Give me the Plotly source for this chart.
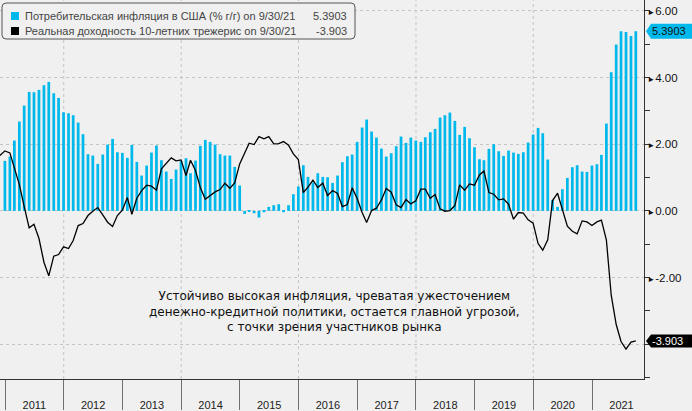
import pandas as pd
import plotly.graph_objects as go

# ---------------- data ----------------
cpi_start = "2010-12"
cpi_yoy = [
    1.50,
    1.63, 2.11, 2.68, 3.16, 3.57, 3.56, 3.63, 3.77, 3.87, 3.53, 3.39, 2.96,
    2.93, 2.87, 2.65, 2.30, 1.70, 1.66, 1.41, 1.69, 1.99, 2.16, 1.76, 1.74,
    1.59, 1.98, 1.47, 1.06, 1.36, 1.75, 1.96, 1.52, 1.18, 0.96, 1.24, 1.50,
    1.58, 1.13, 1.51, 1.95, 2.13, 2.07, 1.99, 1.70, 1.66, 1.66, 1.32, 0.76,
    -0.09, -0.03, -0.07, -0.20, -0.04, 0.12, 0.17, 0.20, -0.04, 0.17, 0.50, 0.73,
    1.37, 1.02, 0.85, 1.13, 1.02, 1.01, 0.84, 1.06, 1.46, 1.64, 1.69, 2.07,
    2.50, 2.74, 2.38, 2.20, 1.87, 1.63, 1.73, 1.94, 2.23, 2.04, 2.20, 2.11,
    2.07, 2.21, 2.36, 2.46, 2.80, 2.87, 2.95, 2.70, 2.28, 2.52, 2.18, 1.91,
    1.55, 1.52, 1.86, 2.00, 1.79, 1.65, 1.81, 1.75, 1.71, 1.76, 2.05, 2.29,
    2.49, 2.33, 1.54, 0.33, 0.12, 0.65, 0.99, 1.31, 1.37, 1.18, 1.17, 1.36,
    1.40, 1.68, 2.62, 4.16, 4.99, 5.39, 5.37, 5.25, 5.3903,
]

ry_start = "2010-11"
real_yield = [
    1.66, 1.80,
    1.74, 1.32, 0.79, 0.13, -0.51, -0.40, -0.83, -1.54, -1.95, -1.36, -1.31, -1.08,
    -1.13, -0.89, -0.44, -0.38, -0.14, -0.01, 0.10, -0.12, -0.34, -0.47, -0.14, 0.02,
    0.40, -0.10, 0.38, 0.61, 0.77, 0.74, 0.62, 1.26, 1.43, 1.59, 1.50, 1.53,
    1.06, 1.52, 1.21, 0.70, 0.35, 0.46, 0.57, 0.64, 0.83, 0.68, 0.84, 1.41,
    1.73, 2.03, 1.99, 2.23, 2.16, 2.23, 2.01, 2.02, 2.08, 1.97, 1.71, 1.54,
    0.55, 0.71, 0.92, 0.70, 0.83, 0.46, 0.61, 0.52, 0.13, 0.19, 0.69, 0.37,
    -0.05, -0.35, 0.01, 0.08, 0.33, 0.67, 0.56, 0.18, 0.10, 0.34, 0.21, 0.30,
    0.65, 0.65, 0.38, 0.49, 0.06, -0.01, 0.01, 0.16, 0.78, 0.62, 0.81, 0.77,
    1.08, 1.20, 0.55, 0.50, 0.33, 0.36, 0.20, -0.25, -0.05, -0.07, -0.27, -0.37,
    -0.98, -1.18, -0.87, 0.31, 0.53, 0.01, -0.46, -0.61, -0.69, -0.30, -0.33, -0.44,
    -0.33, -0.28, -0.88, -2.53, -3.41, -3.92, -4.15, -3.94, -3.903,
]

grid_years = [2012, 2014, 2016, 2018, 2020]
y_tick_vals = [-4, -2, 0, 2, 4, 6]
y_tick_text = ["", "-2.00", "0.00", "2.00", "4.00", "6.00"]

cpi_name = "Потребительская инфляция в США (% г/г) on 9/30/21"
ry_name = "Реальная доходность 10-летних трежерис on 9/30/21"
note_lines = [
    "Устойчиво высокая инфляция, чреватая ужесточением",
    "денежно-кредитной политики, остается главной угрозой,",
    "с точки зрения участников рынка",
]

CYAN = "#00b9ec"
BG = "#f0f0f0"
FONT = "Liberation Sans"


def month_ends(start, n):
    return [p.to_timestamp(how="end").strftime("%Y-%m-%d")
            for p in pd.period_range(start, periods=n, freq="M")]


cpi_x = month_ends(cpi_start, len(cpi_yoy))
ry_x = month_ends(ry_start, len(real_yield))

fig = go.Figure()
fig.add_trace(go.Bar(x=cpi_x, y=cpi_yoy, marker=dict(color=CYAN, line=dict(width=0)),
                     width=17 * 86400000, name=cpi_name))
fig.add_trace(go.Scatter(x=ry_x, y=real_yield, mode="lines",
                         line=dict(color="#000000", width=1.3), name=ry_name))

shapes = []
for yr in grid_years:
    shapes.append(dict(type="line", xref="x", yref="paper", x0=f"{yr}-01-01", x1=f"{yr}-01-01",
                       y0=0, y1=1, line=dict(color="#c4c4c4", width=1, dash="3px,3px"), layer="below"))

# value tags on the right axis
def tag(value, color, half):
    return dict(type="path", xref="paper", xsizemode="pixel", xanchor=1,
                yref="y", ysizemode="pixel", yanchor=value,
                path=f"M2,0 L7,{half} L48,{half} L48,-{half} L7,-{half} Z",
                fillcolor=color, line=dict(width=0), layer="above")

shapes.append(tag(cpi_yoy[-1], CYAN, 7.5))
shapes.append(tag(real_yield[-1], "#000000", 6.5))

# legend box
shapes.append(dict(type="path", xref="paper", xsizemode="pixel", xanchor=0,
                   yref="paper", ysizemode="pixel", yanchor=1,
                   path="M6,-3 L351,-3 Q355,-3 355,-7 L355,-35 Q355,-39 351,-39 L6,-39 "
                        "Q2,-39 2,-35 L2,-7 Q2,-3 6,-3 Z",
                   fillcolor=BG, line=dict(color="#555555", width=1), layer="above"))
for i, col in enumerate([CYAN, "#000000"]):
    top = -12 - 15 * i
    shapes.append(dict(type="rect", xref="paper", xsizemode="pixel", xanchor=0,
                       yref="paper", ysizemode="pixel", yanchor=1,
                       x0=11, x1=19, y0=top, y1=top - 8,
                       fillcolor=col, line=dict(width=0), layer="above"))

annotations = []
for i, (nm, val) in enumerate([(cpi_name, f"{cpi_yoy[-1]:.4f}"), (ry_name, f"{real_yield[-1]:.3f}")]):
    ys = -16 - 15 * i
    annotations.append(dict(xref="paper", yref="paper", x=0, y=1, xshift=23, yshift=ys,
                            xanchor="left", yanchor="middle", showarrow=False, text=nm,
                            font=dict(family=FONT, size=11, color="#444444")))
    annotations.append(dict(xref="paper", yref="paper", x=0, y=1, xshift=349, yshift=ys,
                            xanchor="right", yanchor="middle", showarrow=False, text=val,
                            font=dict(family=FONT, size=11, color="#444444")))

annotations.append(dict(xref="paper", yref="y", x=1, xshift=6, y=cpi_yoy[-1], xanchor="left",
                        yanchor="middle", showarrow=False, text=f"{cpi_yoy[-1]:.4f}",
                        font=dict(family=FONT, size=11, color="#111111")))
annotations.append(dict(xref="paper", yref="y", x=1, xshift=6, y=real_yield[-1], xanchor="left",
                        yanchor="middle", showarrow=False, text=f"{real_yield[-1]:.3f}",
                        font=dict(family=FONT, size=11, color="#ffffff")))

annotations.append(dict(xref="paper", yref="paper", x=0.52, y=0.178, xanchor="center",
                        yanchor="middle", showarrow=False, align="center",
                        text="<br>".join(note_lines),
                        font=dict(family="DejaVu Sans", size=12, color="#111111")))

tri = '<span style="font-size:8px">►</span>'
fig.update_layout(
    width=692, height=411,
    margin=dict(l=0, r=48, t=0, b=30),
    paper_bgcolor=BG, plot_bgcolor=BG,
    showlegend=False,
    shapes=shapes, annotations=annotations,
    xaxis=dict(type="date", range=["2010-11-30 12:00", "2021-11-20"],
               tickmode="linear", tick0="2011-01-01", dtick="M12", tickformat="%Y",
               ticklabelmode="period", ticks="outside", ticklen=30, tickcolor="#707070",
               tickwidth=1, ticklabelstandoff=-14,
               showline=True, linecolor="#333333", linewidth=1, showgrid=False, zeroline=False,
               tickfont=dict(family=FONT, size=11, color="#222222")),
    yaxis=dict(side="right", range=[-5.045, 6.328], tickmode="array",
               tickvals=y_tick_vals,
               ticktext=[(tri + t) if t else "" for t in y_tick_text],
               ticks="", showline=True, linecolor="#333333", linewidth=1,
               showgrid=True, gridcolor="#c4c4c4", griddash="3px,3px", gridwidth=1,
               zeroline=False,
               minor=dict(tickmode="linear", tick0=-5, dtick=1, ticks="outside", ticklen=5,
                          tickcolor="#333333", tickwidth=1, showgrid=False),
               tickfont=dict(family=FONT, size=11.5, color="#111111")),
)

fig.write_html("out.html")
